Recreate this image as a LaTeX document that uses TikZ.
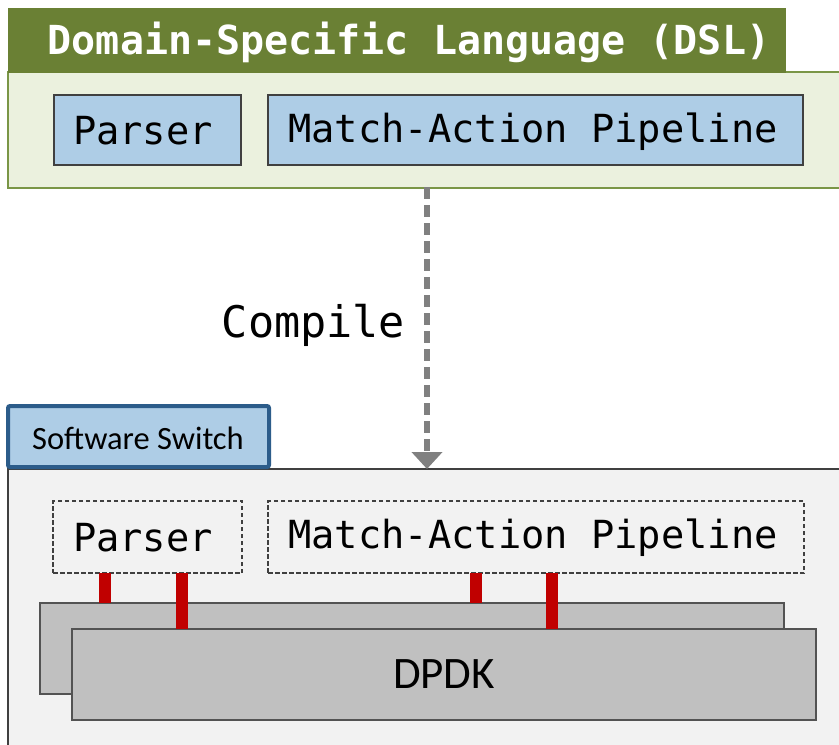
\documentclass[tikz,border=0pt]{standalone}
\usepackage{fontspec}
\setmainfont{Carlito}
\newfontfamily\monof{DejaVu Sans Mono}
\usetikzlibrary{arrows.meta}
\definecolor{olive}{RGB}{106,128,52}
\definecolor{oliveline}{RGB}{122,150,70}
\definecolor{lightgreen}{RGB}{235,241,222}
\definecolor{lightblue}{RGB}{174,205,230}
\definecolor{darkblue}{RGB}{44,92,138}
\definecolor{bodygray}{RGB}{242,242,242}
\definecolor{dpdkgray}{RGB}{192,192,192}
\definecolor{edgegray}{RGB}{64,64,64}
\definecolor{redbarc}{RGB}{192,0,0}
\definecolor{arrowgray}{RGB}{128,128,128}
\tikzset{
  rectbox/.style={rectangle, inner sep=0pt, outer sep=0pt},
  bluebox/.style={rectbox, fill=lightblue, draw=edgegray, line width=1.3pt,
    font=\monof\fontsize{38.7}{40}\selectfont},
  dashbox/.style={rectbox, draw=edgegray, line width=1.5pt, dash pattern=on 4.5pt off 2.5pt,
    font=\monof\fontsize{38.7}{40}\selectfont},
  dpdkbox/.style={rectbox, fill=dpdkgray, draw=edgegray!90, line width=2pt},
  redbar/.style={draw=redbarc, line width=12pt, line cap=butt},
  monotxt/.style={inner sep=0pt, font=\monof\fontsize{38.7}{40}\selectfont},
}
\begin{document}
\begin{tikzpicture}[x=1pt,y=-1pt]
\clip (0,0) rectangle (839,745);
\useasboundingbox (0,0) rectangle (839,745);
\fill[white] (0,0) rectangle (839,745);
% DSL block
\node[rectbox, fill=lightgreen, draw=oliveline, line width=1.5pt,
  minimum width=852pt, minimum height=116pt] (dslbody) at (434,130) {};
\node[rectbox, fill=olive, draw=olive, line width=1pt,
  minimum width=777pt, minimum height=64pt] (dsltab) at (397,40) {};
\node[monotxt, font=\monof\bfseries\fontsize{40}{42}\selectfont, text=white] (dsltitle) at (409,42) {Domain-Specific Language (DSL)};
\node[bluebox, minimum width=187pt, minimum height=70pt] (p1) at (147.5,130) {};
\node[monotxt] (p1t) at (143,131) {Parser};
\node[bluebox, minimum width=535pt, minimum height=70pt] (m1) at (535.5,130) {};
\node[monotxt] (m1t) at (533,132) {Match-Action Pipeline};
% Software switch block
\node[rectbox, fill=bodygray, draw=edgegray, line width=2pt,
  minimum width=852pt, minimum height=291pt] (swbody) at (434,614.5) {};
\node[rectbox, fill=lightblue, draw=darkblue, line width=4pt, rounded corners=2pt,
  minimum width=261pt, minimum height=61pt, font=\fontsize{32.5}{34}\selectfont] (swtab) at (138.5,436.5) {};
\node[inner sep=0pt, font=\fontsize{32.5}{34}\selectfont] (swtext) at (138,438) {Software Switch};
\node[dashbox, minimum width=189pt, minimum height=72pt] (p2) at (147.5,537) {};
\node[monotxt] (p2t) at (143,538) {Parser};
\node[dashbox, minimum width=536pt, minimum height=72pt] (m2) at (536,537) {};
\node[monotxt] (m2t) at (533,538) {Match-Action Pipeline};
\node[dpdkbox, minimum width=744pt, minimum height=91pt] (back) at (412,648.5) {};
\node[dpdkbox, minimum width=744pt, minimum height=91pt, font=\fontsize{45}{47}\selectfont] (front) at (444,674.5) {DPDK};
% red bars
\coordinate (r1) at (105,0);
\coordinate (r2) at (182,0);
\coordinate (r3) at (476,0);
\coordinate (r4) at (552,0);
\draw[redbar] (p2.south -| r1) -- (back.north -| r1);
\draw[redbar] (p2.south -| r2) -- (front.north -| r2);
\draw[redbar] (m2.south -| r3) -- (back.north -| r3);
\draw[redbar] (m2.south -| r4) -- (front.north -| r4);
% compile arrow
\coordinate (ax) at (427,0);
\draw[arrowgray, line width=6pt, dash pattern=on 12pt off 6pt,
  -{Triangle[width=30pt,length=17pt]}] ([yshift=1pt]dslbody.south -| ax) -- (swbody.north -| ax);
\node[monotxt, font=\monof\fontsize{43.5}{45}\selectfont] (compile) at (313.5,325) {Compile};
\end{tikzpicture}
\end{document}
